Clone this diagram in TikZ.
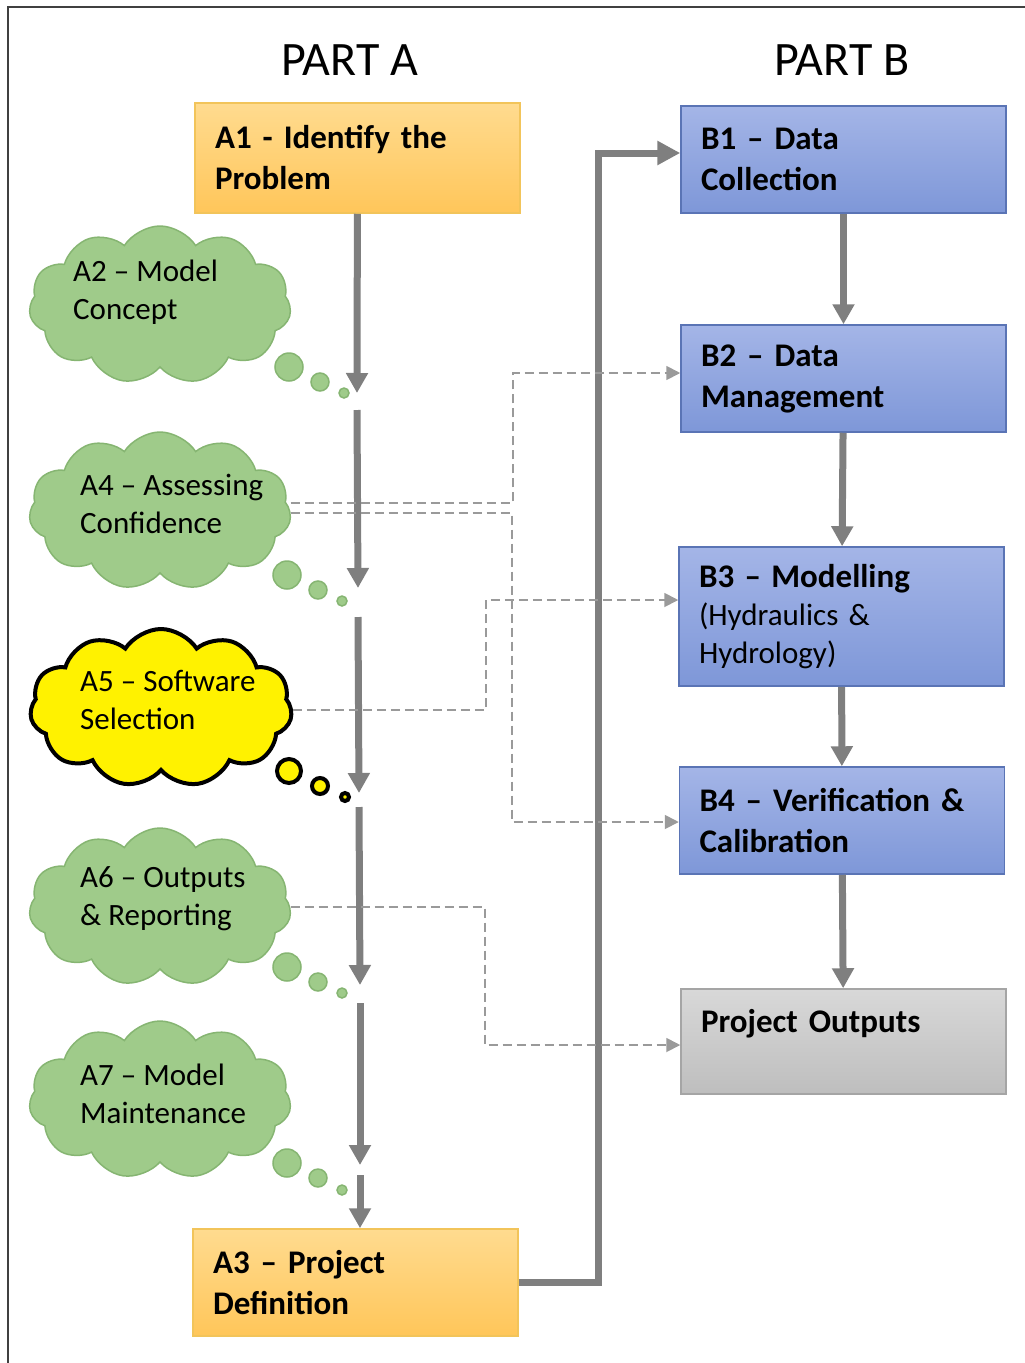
\documentclass[tikz,border=0pt]{standalone}
\usepackage{fontspec}
\setmainfont{Carlito}
\usetikzlibrary{shapes.symbols,arrows.meta}
\definecolor{atop}{HTML}{FFDB8F}
\definecolor{abot}{HTML}{FFC65A}
\definecolor{aline}{HTML}{F2C45A}
\definecolor{btop}{HTML}{A4B5E7}
\definecolor{bbot}{HTML}{7E97D8}
\definecolor{bline}{HTML}{5A74B5}
\definecolor{otop}{HTML}{D8D8D8}
\definecolor{obot}{HTML}{BEBEBE}
\definecolor{oline}{HTML}{A5A5A5}
\definecolor{cloudgreen}{HTML}{9FCB8A}
\definecolor{cloudline}{HTML}{86B572}
\definecolor{flowgray}{HTML}{7F7F7F}
\definecolor{dashgray}{HTML}{9A9A9A}
\tikzset{
  stagebox/.style={draw, line width=1.5pt, minimum height=107pt, text width=285pt,
    inner xsep=20pt, align=left, font=\fontsize{33}{41}\selectfont\bfseries},
  abox/.style={stagebox, draw=aline, top color=atop, bottom color=abot},
  bbox/.style={stagebox, draw=bline, top color=btop, bottom color=bbot},
  obox/.style={stagebox, draw=oline, top color=otop, bottom color=obot},
  thought/.style={cloud, cloud puffs=11, cloud puff arc=115, cloud ignores aspect,
    minimum width=262pt, minimum height=158pt, draw=cloudline, fill=cloudgreen, line width=1.5pt},
  thoughttext/.style={align=left, anchor=west, inner sep=0pt, font=\fontsize{31}{38}\selectfont},
  bubble/.style={draw=cloudline, fill=cloudgreen, line width=1.5pt},
  flow/.style={draw=flowgray, line width=7pt, -{Triangle[width=21pt,length=20pt]}},
  feed/.style={draw=dashgray, line width=1.8pt, dash pattern=on 9pt off 5pt,
    -{Triangle[width=14pt,length=14pt]}},
  parttitle/.style={font=\fontsize{48}{56}\selectfont}
}
\begin{document}
\begin{tikzpicture}[x=1pt, y=-1pt]
\useasboundingbox (0,0) rectangle (1025,1363);
\draw[line width=2pt, black!75] (8,7) rectangle (1045,1385);

% titles
\node[parttitle] (parta) at (350,60) {PART A};
\node[parttitle] (partb) at (842,60) {PART B};

% part A boxes
\node[abox, minimum height=110pt] (a1) at (357.5,158) {A1 - Identify the\\Problem};
\node[abox] (a3) at (355.5,1282.5) {A3 -- Project\\Definition};

% part B boxes
\node[bbox] (b1) at (843.5,159.5) {B1 -- Data\\Collection};
\node[bbox] (b2) at (843.5,378.5) {B2 -- Data\\Management};
\node[bbox, minimum height=139pt, font=\fontsize{31}{38}\selectfont] (b3) at (841.5,616.5)
  {{\bfseries\fontsize{33}{41}\selectfont B3 -- Modelling}\\(Hydraulics \&\\Hydrology)};
\node[bbox] (b4) at (842,820.5) {B4 -- Verification \&\\Calibration};
\node[obox, minimum height=105pt] (po) at (843.5,1041.5) {Project Outputs\\\mbox{}};

% thought clouds
\node[thought] (a2) at (160,305) {};
\node[thought] (a4) at (160,511) {};
\node[thought, fill=yellow, draw=black, line width=4pt] (a5) at (161,708) {};
\node[thought] (a6) at (160,907) {};
\node[thought] (a7) at (160,1100) {};
\node[thoughttext] (a2-txt) at (73,292) {A2 -- Model\\Concept};
\node[thoughttext] (a4-txt) at (80,504) {A4 -- Assessing\\Confidence};
\node[thoughttext] (a5-txt) at (80,700) {A5 -- Software\\Selection};
\node[thoughttext] (a6-txt) at (80,899) {A6 -- Outputs\\\& Reporting};
\node[thoughttext] (a7-txt) at (80,1094) {A7 -- Model\\Maintenance};
\draw[bubble] (289,367) circle[radius=14] (320,382) circle[radius=9] (344,393) circle[radius=5];
\draw[bubble] (287,575) circle[radius=14] (318,590) circle[radius=9] (342,601) circle[radius=5];
\draw[bubble, fill=yellow, draw=black, line width=4pt] (289,771) circle[radius=12]
  (320,786) circle[radius=8] (345,797) circle[radius=4];
\draw[bubble] (287,967) circle[radius=14] (318,982) circle[radius=9] (342,993) circle[radius=5];
\draw[bubble] (287,1163) circle[radius=14] (318,1178) circle[radius=9] (342,1190) circle[radius=5];

% main flow down part A
\coordinate (g2a) at (357,393); \coordinate (g2b) at (357,410);
\coordinate (g4a) at (358,588); \coordinate (g4b) at (358,617);
\coordinate (g5a) at (359,793); \coordinate (g5b) at (359,807);
\coordinate (g6a) at (360,985); \coordinate (g6b) at (360,1003);
\coordinate (g7a) at (360,1165); \coordinate (g7b) at (360,1175);
\draw[flow] (a1) -- (g2a);
\draw[flow] (g2b) -- (g4a);
\draw[flow] (g4b) -- (g5a);
\draw[flow] (g5b) -- (g6a);
\draw[flow] (g6b) -- (g7a);
\draw[flow] (g7b) -- (g7b |- a3.north);
\draw[flow, -{Triangle[width=23pt,length=23pt]}] (a3.east) -- ++(80,0) |- ([yshift=6.5pt]b1.west);

% part B chain
\draw[flow] (b1) -- (b2);
\draw[flow] (b2) -- (b3);
\draw[flow] (b3) -- (b4);
\draw[flow] (b4) -- (po);

% dashed feeds
\coordinate (d1) at (513,373);
\coordinate (d2) at (512,822);
\coordinate (d3) at (486,600);
\coordinate (d4) at (485,1045);
\draw[feed] ([yshift=8pt]a4.east) -| (d1) -- (d1 -| b2.west);
\draw[feed] ([yshift=-2pt]a4.east) -| (d2) -- (d2 -| b4.west);
\draw[feed] ([yshift=-2pt]a5.east) -| (d3) -- (d3 -| b3.west);
\draw[feed] (a6.east) -| (d4) -- (d4 -| po.west);
\end{tikzpicture}
\end{document}
